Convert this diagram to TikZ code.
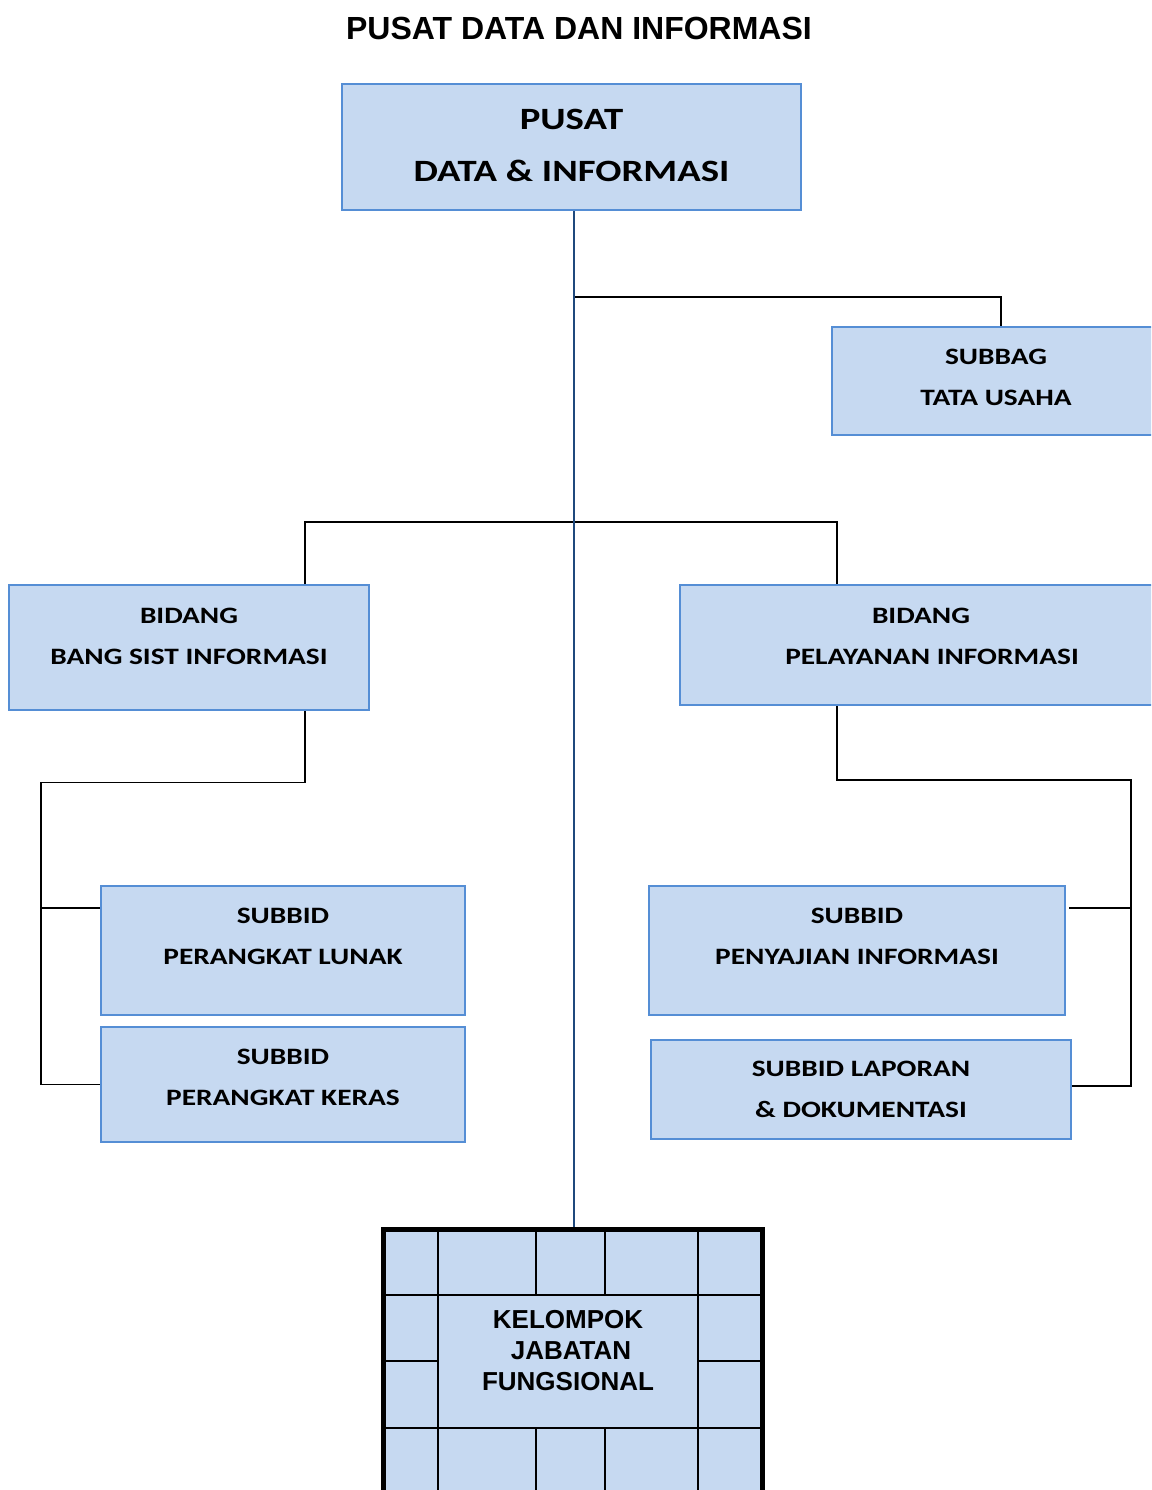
\documentclass[tikz,border=0pt]{standalone}
\usepackage{fontspec}
\newfontfamily\calfont{Carlito}[FakeStretch=1.25]
\newfontfamily\arfont{Liberation Sans}
\definecolor{boxfill}{HTML}{C6D9F1}
\definecolor{boxline}{HTML}{558ED5}
\definecolor{spineblue}{HTML}{1F497D}
\begin{document}
\begin{tikzpicture}[x=1pt,y=-1pt,
		unit/.style={draw=boxline,fill=boxfill,line width=2pt,inner sep=0pt},
		lab/.style={align=center,font=\calfont\bfseries\fontsize{23.5}{41}\selectfont},
		link/.style={line width=1.8pt},
		gridline/.style={line width=2.4pt}]
		\useasboundingbox (0,0) rectangle (1151,1490);
		\clip (0,0) rectangle (1151,1490);
		\node[font=\arfont\bfseries\fontsize{32}{38}\selectfont] (title) at (579,28.5) {PUSAT DATA DAN INFORMASI};
		% kotak-kotak
		\node[unit,minimum width=459pt,minimum height=126pt,
			label={[lab,font=\calfont\bfseries\fontsize{31}{52}\selectfont,yshift=2pt]center:{PUSAT\\DATA \& INFORMASI}}] (pusat) at (571.5,147) {};
		\node[unit,minimum width=328pt,minimum height=108pt,
			label={[lab,yshift=3.5pt]center:{SUBBAG\\TATA USAHA}}] (subbag) at (996,381) {};
		\node[unit,minimum width=360pt,minimum height=125pt,
			label={[lab,yshift=11.5pt]center:{BIDANG\\BANG SIST INFORMASI}}] (bsi) at (189,647.5) {};
		\node[unit,minimum width=504pt,minimum height=120pt,
			label={[lab,yshift=9pt]center:{\mbox{BIDANG\hspace{22pt}}\\PELAYANAN INFORMASI}}] (pi) at (932,645) {};
		\node[unit,minimum width=364pt,minimum height=129pt,
			label={[lab,yshift=14pt]center:{SUBBID\\PERANGKAT LUNAK}}] (lunak) at (283,950.5) {};
		\node[unit,minimum width=364pt,minimum height=115pt,
			label={[lab,yshift=7pt]center:{SUBBID\\PERANGKAT KERAS}}] (keras) at (283,1084.5) {};
		\node[unit,minimum width=416pt,minimum height=129pt,
			label={[lab,yshift=14.5pt]center:{SUBBID\\PENYAJIAN INFORMASI}}] (sajian) at (857,950.5) {};
		\node[unit,minimum width=420pt,minimum height=99pt,
			label={[lab]center:{SUBBID LAPORAN\\\& DOKUMENTASI}}] (lapor) at (861,1089.5) {};
		% kelompok jabatan fungsional
		\node[fill=boxfill,draw=black,line width=5pt,inner sep=0pt,minimum width=379pt,minimum height=331pt] (kel) at (572.5,1394.5) {};
		\foreach \gx in {438,698}
			\draw[gridline] (\gx,1229) -- (\gx,1500);
		\foreach \gx in {536,605} {
			\draw[gridline] (\gx,1229) -- (\gx,1295);
			\draw[gridline] (\gx,1428) -- (\gx,1500);
		}
		\foreach \gy in {1295,1428}
			\draw[gridline] (383,\gy) -- (762,\gy);
		\draw[gridline] (383,1361) -- (438,1361) (698,1361) -- (762,1361);
		\node[align=center,font=\arfont\bfseries\fontsize{26}{31}\selectfont] (kjf) at (568,1351) {KELOMPOK\\\hspace*{6pt}JABATAN\\FUNGSIONAL};
		% garis
		\coordinate (spine) at (574,0);
		\coordinate (tuJ) at (574,297);
		\coordinate (bidJ) at (574,522);
		\coordinate (lbus) at (41,782.5);
		\coordinate (rbus) at (1131,780);
		\draw[link] (tuJ) -| ([xshift=5pt]subbag.north);
		\draw[link] ([xshift=116pt]bsi.north) |- (bidJ) -| ([xshift=-95pt]pi.north);
		\draw[link] ([xshift=116pt]bsi.south) |- (lbus) |- (keras.west);
		\draw[link] (lbus) |- ([yshift=42.5pt]lunak.west);
		\draw[link] ([xshift=-95pt]pi.south) |- (rbus) |- ([yshift=3.5pt]lapor.east);
		\draw[link] (rbus) |- ([xshift=3pt,yshift=42.5pt]sajian.east);
		\draw[link,spineblue] (pusat.south -| spine) -- (kel.north -| spine);
	\end{tikzpicture}
\end{document}
